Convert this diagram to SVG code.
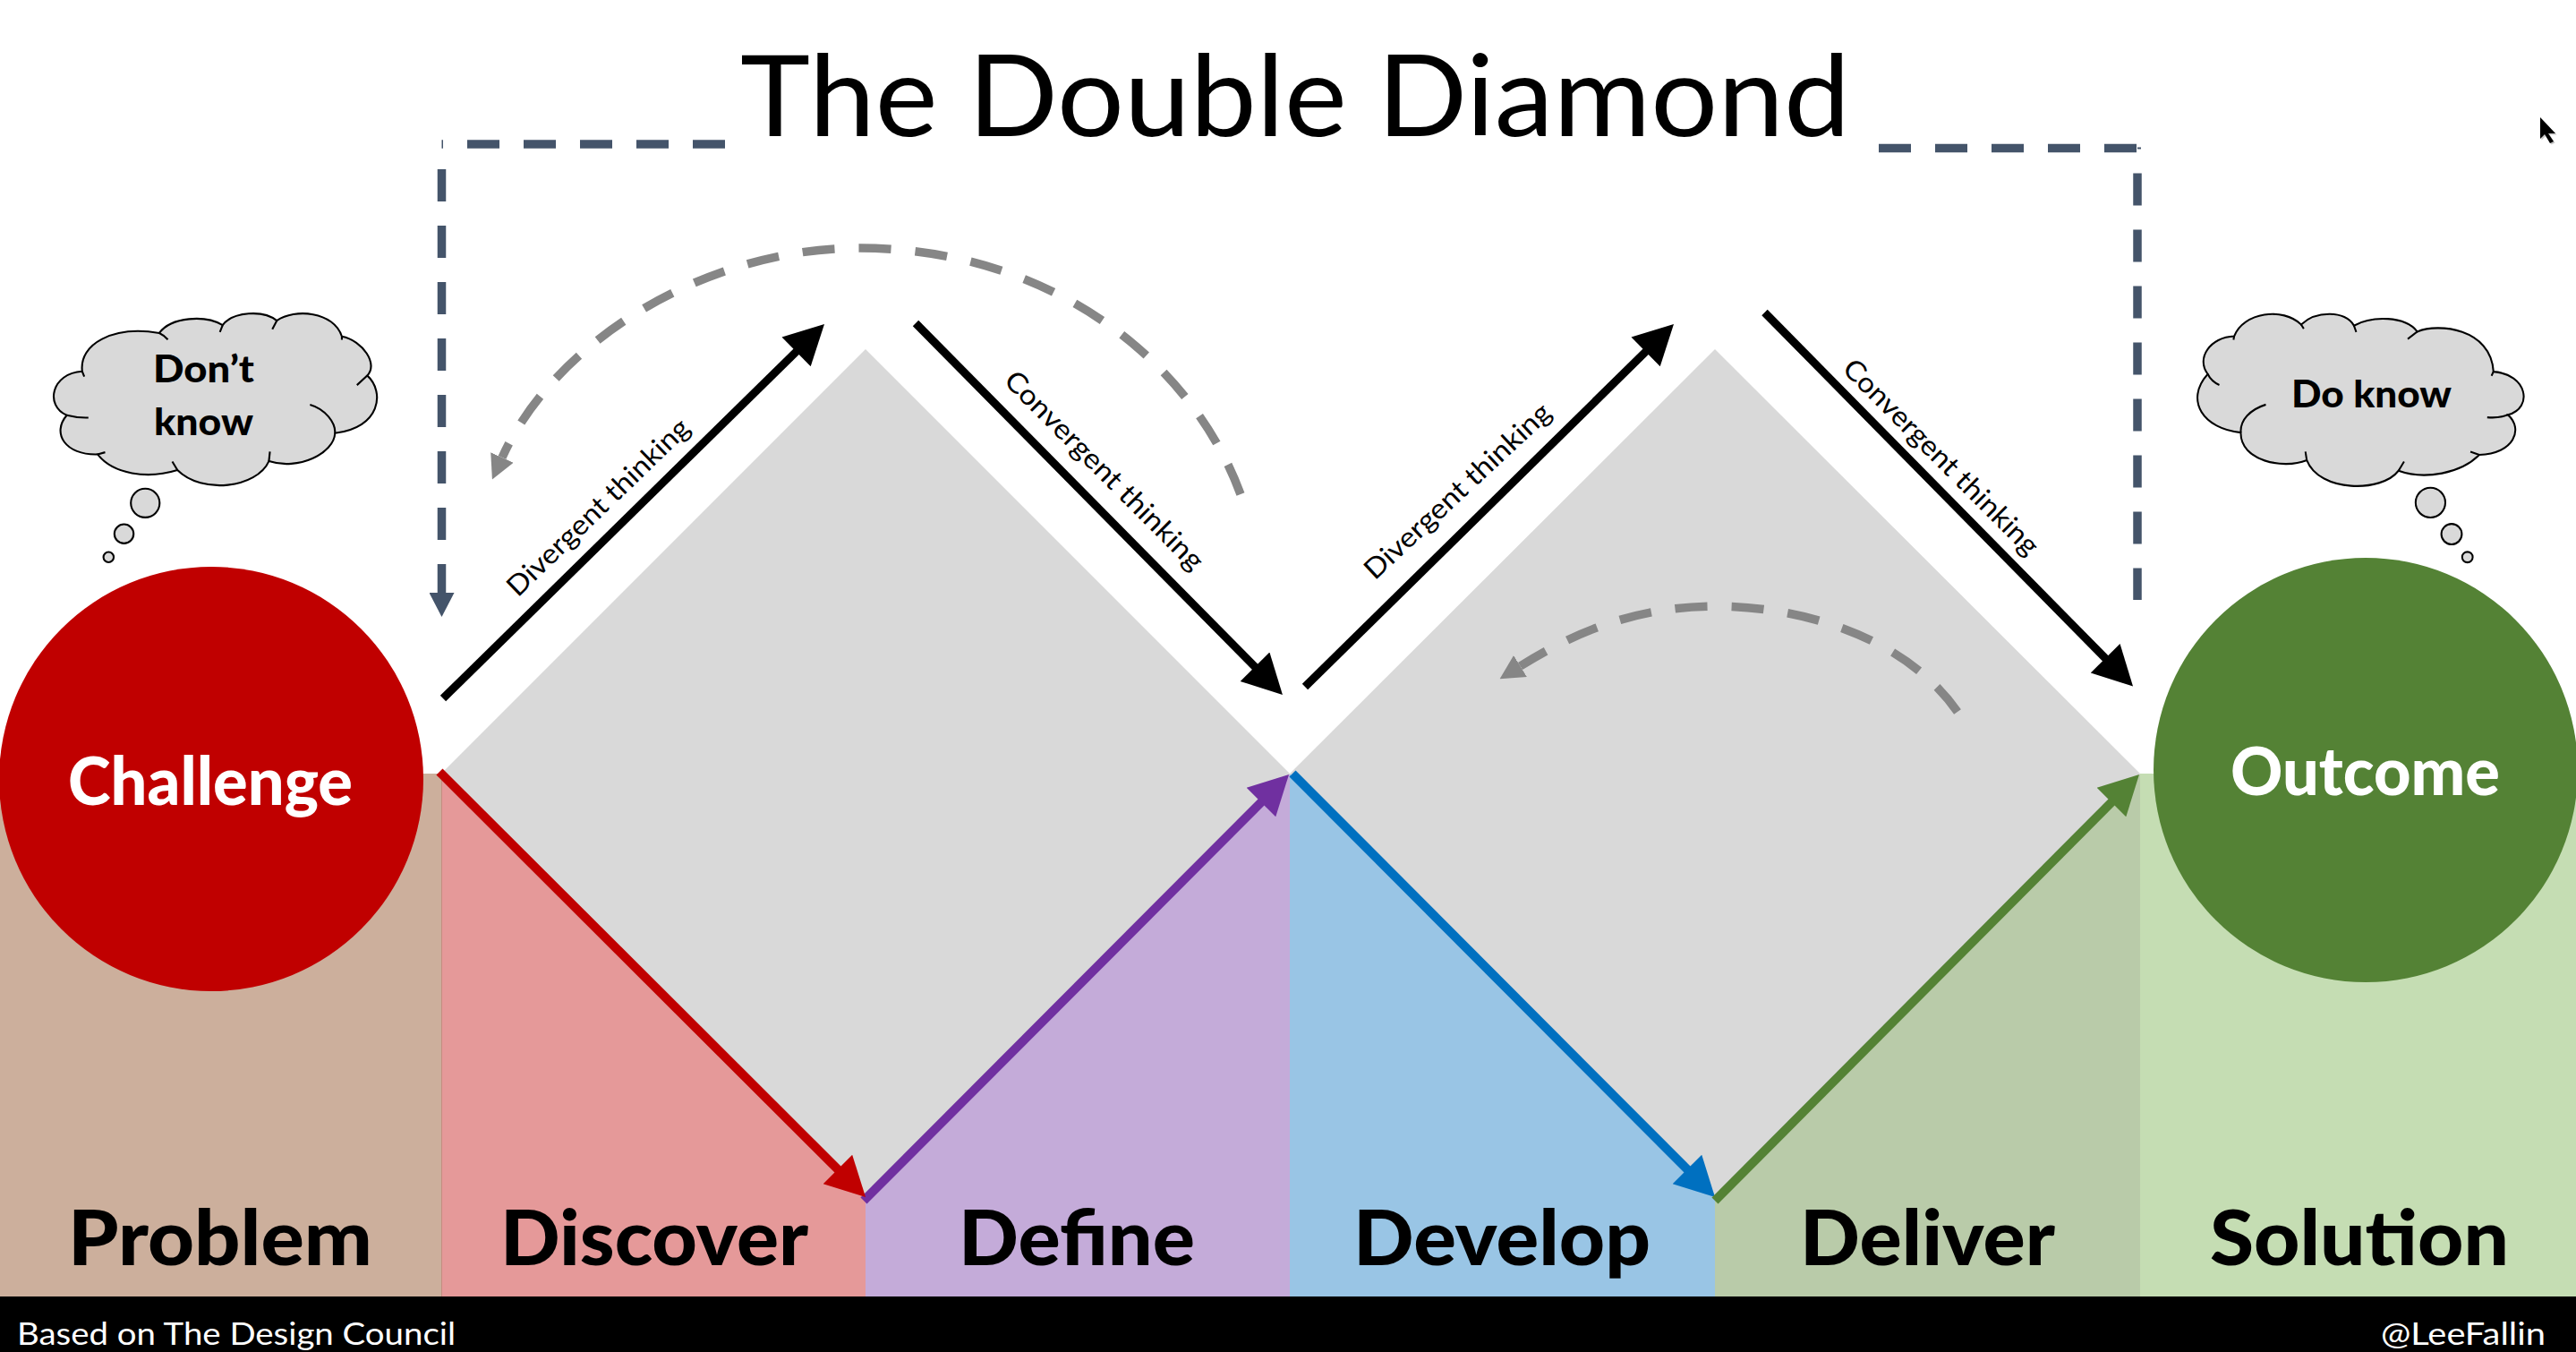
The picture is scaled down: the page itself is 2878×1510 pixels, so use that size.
<svg xmlns="http://www.w3.org/2000/svg" width="2878" height="1510" viewBox="0 0 2878 1510">
<style>
text{font-family:Lato,"Open Sans","Liberation Sans",sans-serif;fill:#000}
.stage{font-size:85px;font-weight:900}
.hub{font-size:74px;font-weight:900;fill:#fff}
.foot{font-size:35px;fill:#fff}
.think{font-size:31px;text-anchor:middle}
.cl{font-size:42px;font-weight:900}
.cloud{fill:#D9D9D9;stroke:#000;stroke-width:5.5}
.tick{fill:none;stroke:#000;stroke-width:5.5}
.blk{fill:none;stroke:#000;stroke-width:9}
.col{fill:none;stroke-width:10}
.navy{fill:none;stroke:#44546A;stroke-width:9.5;stroke-dasharray:36 27}
.gry{fill:none;stroke:#868686;stroke-width:9.5;stroke-dasharray:36 27}
</style>
<defs>
<marker id="hK" markerUnits="userSpaceOnUse" markerWidth="46" markerHeight="46" viewBox="0 0 44 46" refX="22" refY="23" orient="auto"><path d="M0 0L44 23L0 46Z" fill="#000"/></marker>
<marker id="hR" markerUnits="userSpaceOnUse" markerWidth="46" markerHeight="46" viewBox="0 0 44 46" refX="22" refY="23" orient="auto"><path d="M0 0L44 23L0 46Z" fill="#C00000"/></marker>
<marker id="hP" markerUnits="userSpaceOnUse" markerWidth="46" markerHeight="46" viewBox="0 0 44 46" refX="22" refY="23" orient="auto"><path d="M0 0L44 23L0 46Z" fill="#7030A0"/></marker>
<marker id="hB" markerUnits="userSpaceOnUse" markerWidth="46" markerHeight="46" viewBox="0 0 44 46" refX="22" refY="23" orient="auto"><path d="M0 0L44 23L0 46Z" fill="#0070C0"/></marker>
<marker id="hG" markerUnits="userSpaceOnUse" markerWidth="46" markerHeight="46" viewBox="0 0 44 46" refX="22" refY="23" orient="auto"><path d="M0 0L44 23L0 46Z" fill="#548235"/></marker>
<marker id="hN" markerUnits="userSpaceOnUse" markerWidth="27" markerHeight="28" viewBox="0 0 27 28" refX="0" refY="14" orient="auto"><path d="M0 0L27 14L0 28Z" fill="#44546A"/></marker>
<marker id="hA" markerUnits="userSpaceOnUse" markerWidth="27" markerHeight="28" viewBox="0 0 27 28" refX="0" refY="14" orient="auto"><path d="M0 0L27 14L0 28Z" fill="#868686"/></marker>
</defs>
<rect width="2878" height="1510" fill="#fff"/>

<g id="bands">
<rect x="0" y="864" width="493" height="584" fill="#CCAF9C"/>
<polygon points="493,864 967,1339 967,1448 493,1448" fill="#E59999"/>
<polygon points="967,1339 1441,864 1441,1448 967,1448" fill="#C4ABD9"/>
<polygon points="1441,864 1916,1339 1916,1448 1441,1448" fill="#99C5E5"/>
<polygon points="1916,1339 2391,864 2391,1448 1916,1448" fill="#B9CBA9"/>
<rect x="2391" y="864" width="487" height="584" fill="#C5DDB3"/>
<line x1="493.5" y1="864" x2="493.5" y2="1448" stroke="#C58C80" stroke-width="1"/>
</g>
<g id="diamond-1"><polygon points="493,864 967,390 1441,864 967,1339" fill="#D9D9D9"/></g>
<g id="diamond-2"><polygon points="1441,864 1916,390 2391,864 1916,1339" fill="#D9D9D9"/></g>

<g id="connectors">
<path class="col" stroke="#0070C0" d="M1444 864L1900.5 1321.5" marker-end="url(#hB)"/>
<path class="col" stroke="#548235" d="M1916 1341L2374.5 880.5" marker-end="url(#hG)"/>
<path class="col" stroke="#7030A0" d="M965 1341L1424.5 880.5" marker-end="url(#hP)"/>
<path class="col" stroke="#C00000" d="M491 862L951.5 1321.5" marker-end="url(#hR)"/>
<path class="blk" d="M495 780L905.3 377.4" marker-end="url(#hK)"/>
<path class="blk" d="M1023 361L1417.5 760.4" marker-end="url(#hK)"/>
<path class="blk" d="M1458 767L1854.3 377.4" marker-end="url(#hK)"/>
<path class="blk" d="M1971.5 349L2367.6 750.9" marker-end="url(#hK)"/>
<path class="navy" d="M810 161H493.5"/>
<path class="navy" d="M493.5 189V662" marker-end="url(#hN)"/>
<path class="navy" d="M2099 165.5H2388"/>
<path d="M2388 165.5H2392" stroke="#44546A" stroke-width="2"/>
<path class="navy" d="M2388 193.6V670"/>
<path class="gry" d="M1386 552C1330 400 1170 277 960 277C790 277 620 380 561 511" marker-end="url(#hA)"/>
<path class="gry" d="M2187 795C2135 720 2030 678 1918 677C1820 677 1750 712 1698.5 744" marker-end="url(#hA)"/>
</g>

<g id="title"><text x="827" y="152" font-size="127" textLength="1240" lengthAdjust="spacingAndGlyphs">The Double Diamond</text></g>

<g id="label-divergent-1"><text class="think" transform="translate(668,566) rotate(-44)" y="11" textLength="270" lengthAdjust="spacingAndGlyphs">Divergent thinking</text></g>
<g id="label-convergent-1"><text class="think" transform="translate(1234,525) rotate(45)" y="11" textLength="300" lengthAdjust="spacingAndGlyphs">Convergent thinking</text></g>
<g id="label-divergent-2"><text class="think" transform="translate(1628,548) rotate(-43)" y="11" textLength="272" lengthAdjust="spacingAndGlyphs">Divergent thinking</text></g>
<g id="label-convergent-2"><text class="think" transform="translate(2169,510) rotate(45)" y="11" textLength="295" lengthAdjust="spacingAndGlyphs">Convergent thinking</text></g>

<g id="challenge"><circle cx="236" cy="870" r="237" fill="#C00000"/><text class="hub" x="76" y="899" textLength="318" lengthAdjust="spacingAndGlyphs">Challenge</text></g>
<g id="outcome"><circle cx="2643" cy="860" r="237" fill="#548235"/><text class="hub" x="2492" y="888" textLength="301" lengthAdjust="spacingAndGlyphs">Outcome</text></g>

<g id="cloud-dont-know">
<g transform="translate(0,300) scale(.3827)">
<path class="cloud" d="M240 300C230 220 330 165 465 188C500 140 600 135 650 165C680 125 770 120 808 152C860 115 975 125 998 198C1060 210 1105 280 1072 312C1125 360 1110 465 978 480C975 540 870 590 785 562C750 640 590 660 518 588C430 615 330 600 285 542C190 545 150 480 195 428C130 400 150 305 240 300Z"/>
<path class="tick" d="M465 188Q480 195 490 207M650 165L642 185M808 152L795 177M998 198L998 208M1072 312L1042 340M978 480C980 450 950 410 905 397M785 562L788 534M518 588L503 563M285 542L307 536M195 428Q225 436 258 435M240 300L246 315"/>
<circle class="cloud" cx="424" cy="684" r="42"/>
<circle class="cloud" cx="362" cy="774" r="28"/>
<circle class="cloud" cx="317" cy="842" r="15"/>
</g>
<text class="cl" x="171" y="427" textLength="113" lengthAdjust="spacingAndGlyphs">Don’t</text>
<text class="cl" x="172" y="486" textLength="111" lengthAdjust="spacingAndGlyphs">know</text>
</g>

<g id="cloud-do-know">
<g transform="translate(2300,60) scale(.3686,.3954)">
<path class="cloud" d="M532 798C560 730 680 715 735 765C780 725 870 725 895 768C950 740 1050 740 1087 785C1150 760 1310 775 1318 898C1420 905 1440 1000 1362 1020C1410 1060 1380 1130 1275 1133C1220 1185 1110 1205 1030 1178C980 1240 790 1240 752 1148C680 1175 550 1150 552 1070C440 1060 380 980 452 905C415 860 460 800 532 798Z"/>
<path class="tick" d="M1087 785L1058 806M735 765L743 777M895 768L902 786M532 798L530 808M1318 898L1312 910M1362 1020Q1335 1030 1299 1027M1275 1133L1248 1124M1030 1178L1047 1152M752 1148L748 1124M552 1070C550 1035 580 1005 628 991M452 905Q462 925 487 936"/>
<ellipse class="cloud" cx="1127" cy="1268" rx="45" ry="42"/>
<ellipse class="cloud" cx="1191" cy="1357" rx="31" ry="29"/>
<ellipse class="cloud" cx="1239" cy="1422" rx="16" ry="15"/>
</g>
<text class="cl" x="2560" y="455" textLength="179" lengthAdjust="spacingAndGlyphs">Do know</text>
</g>

<g id="stage-labels">
<text class="stage" x="76" y="1413" textLength="340" lengthAdjust="spacingAndGlyphs">Problem</text>
<text class="stage" x="559" y="1413" textLength="344" lengthAdjust="spacingAndGlyphs">Discover</text>
<text class="stage" x="1071" y="1413" textLength="264" lengthAdjust="spacingAndGlyphs">Define</text>
<text class="stage" x="1512" y="1413" textLength="332" lengthAdjust="spacingAndGlyphs">Develop</text>
<text class="stage" x="2011" y="1413" textLength="285" lengthAdjust="spacingAndGlyphs">Deliver</text>
<text class="stage" x="2469" y="1413" textLength="334" lengthAdjust="spacingAndGlyphs">Solution</text>
</g>

<g id="footer">
<rect x="0" y="1448" width="2878" height="62" fill="#000"/>
<text class="foot" x="19" y="1502" textLength="490" lengthAdjust="spacingAndGlyphs">Based on The Design Council</text>
<text class="foot" x="2660" y="1502" textLength="184" lengthAdjust="spacingAndGlyphs">@LeeFallin</text>
</g>

<g id="cursor">
<polygon points="2839.5,132.5 2856.5,150.5 2848.5,150.5 2854.5,159.5 2850.5,161.5 2844.5,151.5 2839.5,156.5" fill="#C8C8C8"/>
<polygon points="2838,131 2855,149 2847,149 2853,158 2849,160 2843,150 2838,155" fill="#000"/>
</g>
</svg>
